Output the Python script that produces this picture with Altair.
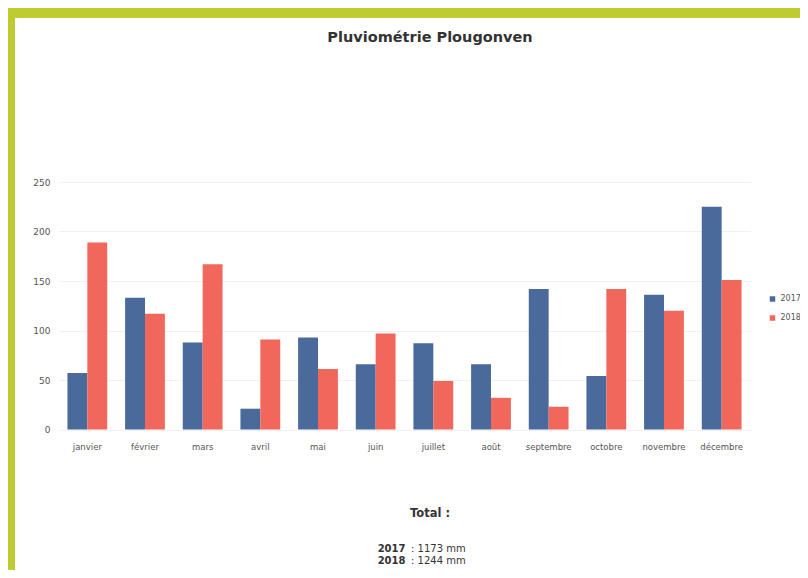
import altair as alt
import pandas as pd

# ---- data ----
months = ["janvier", "février", "mars", "avril", "mai", "juin",
          "juillet", "août", "septembre", "octobre", "novembre", "décembre"]
years = ["2017", "2018"]
rain_2017 = [57, 133, 88, 21, 93, 66, 87, 66, 142, 54, 136, 225]
rain_2018 = [189, 117, 167, 91, 61, 97, 49, 32, 23, 142, 120, 151]
y_ticks = [0, 50, 100, 150, 200, 250]
totals = [1173, 1244]
title_text = "Pluviométrie Plougonven"
total_label = "Total :"

BLUE = "#4a6a9c"
RED = "#f2675b"
GREEN = "#bfcc31"
FONT = "DejaVu Sans"

rows = []
for m, a, b in zip(months, rain_2017, rain_2018):
    rows.append({"mois": m, "annee": years[0], "mm": a})
    rows.append({"mois": m, "annee": years[1], "mm": b})
df = pd.DataFrame(rows)

W, H = 692, 247.5

bars = alt.Chart(df).mark_bar().encode(
    x=alt.X("mois:N", sort=months, title=None,
            scale=alt.Scale(paddingInner=0.31, paddingOuter=0.155),
            axis=alt.Axis(labelAngle=0, ticks=False, domain=False,
                          labelFontSize=8.5, labelColor="#555555",
                          labelFont=FONT, labelPadding=13)),
    xOffset=alt.XOffset("annee:N", sort=years,
                        scale=alt.Scale(paddingInner=0, paddingOuter=0)),
    y=alt.Y("mm:Q", title=None,
            scale=alt.Scale(domain=[0, 250], nice=False),
            axis=alt.Axis(values=y_ticks, ticks=False, domain=False,
                          labelFontSize=9, labelColor="#555555",
                          labelFont=FONT, labelPadding=8.5,
                          gridColor="#f1f1f1", gridWidth=1)),
    color=alt.Color("annee:N", sort=years,
                    scale=alt.Scale(domain=years, range=[BLUE, RED]),
                    legend=alt.Legend(title=None, orient="none",
                                      legendX=710, legendY=113,
                                      symbolType="square", symbolSize=30,
                                      symbolStrokeWidth=0,
                                      labelFontSize=8, labelFont=FONT,
                                      labelColor="#555555", rowPadding=11)),
)

# green frame strips (page decoration)
frame_df = pd.DataFrame({"k": [0]})
top_strip = alt.Chart(frame_df).mark_rect(color=GREEN).encode(
    x=alt.value(-50.5), x2=alt.value(800), y=alt.value(-174), y2=alt.value(-164))
left_strip = alt.Chart(frame_df).mark_rect(color=GREEN).encode(
    x=alt.value(-50.5), x2=alt.value(-43.5), y=alt.value(-174), y2=alt.value(400))

title = alt.Chart(pd.DataFrame({"t": [title_text]})).mark_text(
    font=FONT, fontSize=14.5, fontWeight="bold", color="#333333",
    align="center", baseline="middle").encode(
    text="t:N", x=alt.value(371.5), y=alt.value(-144))

total_title = alt.Chart(pd.DataFrame({"t": [total_label]})).mark_text(
    font=FONT, fontSize=11.5, fontWeight="bold", color="#333333",
    align="center", baseline="middle").encode(
    text="t:N", x=alt.value(371.5), y=alt.value(332))

tot_df = pd.DataFrame({
    "annee": years,
    "reste": [f": {v} mm" for v in totals],
    "ypos": [366.8, 378.6],
})
tot_year = alt.Chart(tot_df).mark_text(
    font=FONT, fontSize=10, fontWeight="bold", color="#333333",
    align="right", baseline="middle").encode(
    text="annee:N", x=alt.value(347),
    y=alt.Y("ypos:Q", scale=None))
tot_rest = alt.Chart(tot_df).mark_text(
    font=FONT, fontSize=10, color="#333333",
    align="left", baseline="middle").encode(
    text="reste:N", x=alt.value(352.5),
    y=alt.Y("ypos:Q", scale=None))

chart = alt.layer(top_strip, left_strip, bars, title, total_title,
                  tot_year, tot_rest).properties(
    width=W, height=H,
    autosize=alt.AutoSizeParams(type="none"),
    padding={"left": 50.5, "top": 174, "right": 49.5, "bottom": 140.5},
    background="white",
).configure_view(stroke=None)

chart.save("out.html", embed_options={"renderer": "svg", "actions": False})
